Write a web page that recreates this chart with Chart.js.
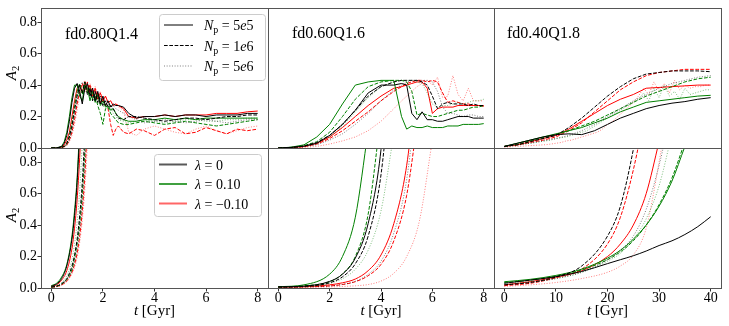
<!DOCTYPE html>
<html lang="en">
<head>
<meta charset="UTF-8">
<title>A2 bar growth</title>
<script src="https://cdn.jsdelivr.net/npm/chart.js"></script>
<style>
  html, body { margin: 0; padding: 0; background: #fff; overflow: hidden; }
  #wrap { position: relative; width: 729px; height: 326px; overflow: hidden; background: #fff; }
  #wrap canvas { position: absolute; left: -40px; top: -40px; }
</style>
</head>
<body>
<div id="wrap">
  <canvas id="p00" width="809" height="406"></canvas>
  <canvas id="p01" width="809" height="406"></canvas>
  <canvas id="p02" width="809" height="406"></canvas>
  <canvas id="p10" width="809" height="406"></canvas>
  <canvas id="p11" width="809" height="406"></canvas>
  <canvas id="p12" width="809" height="406"></canvas>
</div>
<script>
// ---- labels / ticks ----
const panelNames = ['fd0.80Q1.4', 'fd0.60Q1.6', 'fd0.40Q1.8'];
const npLabels = ['5e5', '1e6', '5e6'];
const lambdaLabels = ['0', '0.10', '\u22120.10'];
const xTicksGyr = [0, 2, 4, 6, 8];
const xTicksLong = [0, 10, 20, 30, 40];
const yTicks = [0, 0.2, 0.4, 0.6, 0.8];
const xLimGyr = [-0.4, 8.4];
const xLimLong = [-2, 42];
const yLim = [0, 0.89];

// ---- top left: fd0.80Q1.4, A2 (k = lambda 0, g = 0.10, r = -0.10) ----
const tTopL = [0,0.2,0.4,0.5,0.6,0.7,0.8,0.9,1.0,1.1,1.2,1.3,1.4,1.5,1.6,1.7,1.8,1.9,2.0,2.1,2.2,2.3,2.4,2.5,2.6,2.8,3.0,3.3,3.6,4.0,4.4,4.8,5.2,5.6,6.0,6.4,6.8,7.2,7.6,8.0];
const topL_k5e5 = [0,0,0.01,0.03,0.08,0.17,0.29,0.38,0.41,0.36,0.28,0.38,0.41,0.33,0.38,0.30,0.36,0.28,0.33,0.27,0.30,0.26,0.28,0.27,0.27,0.26,0.22,0.19,0.2,0.2,0.21,0.2,0.21,0.21,0.2,0.21,0.21,0.21,0.22,0.22];
const topL_k1e6 = [0,0,0.005,0.01,0.03,0.07,0.14,0.24,0.33,0.40,0.35,0.42,0.34,0.38,0.30,0.36,0.29,0.33,0.27,0.3,0.26,0.27,0.25,0.22,0.19,0.18,0.2,0.2,0.19,0.18,0.17,0.18,0.19,0.19,0.18,0.19,0.2,0.2,0.21,0.21];
const topL_k5e6 = [0,0,0.003,0.008,0.02,0.05,0.11,0.2,0.3,0.38,0.42,0.36,0.4,0.33,0.37,0.3,0.33,0.28,0.3,0.27,0.28,0.26,0.27,0.25,0.24,0.22,0.2,0.18,0.16,0.17,0.18,0.17,0.16,0.17,0.18,0.17,0.16,0.17,0.18,0.18];
const topL_g5e5 = [0,0,0.01,0.04,0.1,0.2,0.32,0.4,0.40,0.33,0.3,0.4,0.38,0.3,0.36,0.29,0.34,0.27,0.3,0.26,0.27,0.24,0.25,0.22,0.2,0.18,0.17,0.17,0.18,0.18,0.19,0.18,0.19,0.18,0.19,0.19,0.19,0.19,0.19,0.19];
const topL_g1e6 = [0,0,0.005,0.01,0.03,0.08,0.16,0.27,0.36,0.41,0.34,0.42,0.35,0.38,0.31,0.34,0.27,0.22,0.15,0.25,0.26,0.22,0.2,0.18,0.16,0.15,0.15,0.16,0.17,0.16,0.15,0.16,0.17,0.16,0.15,0.14,0.15,0.16,0.17,0.18];
const topL_g5e6 = [0,0,0.003,0.008,0.02,0.06,0.13,0.23,0.33,0.4,0.37,0.42,0.35,0.39,0.32,0.35,0.28,0.31,0.26,0.28,0.25,0.26,0.22,0.2,0.18,0.17,0.16,0.17,0.18,0.17,0.16,0.17,0.18,0.18,0.17,0.17,0.18,0.18,0.19,0.19];
const topL_r5e5 = [0,0,0.005,0.02,0.05,0.1,0.2,0.3,0.38,0.40,0.35,0.42,0.36,0.40,0.33,0.38,0.31,0.35,0.30,0.33,0.29,0.30,0.27,0.28,0.27,0.25,0.2,0.19,0.2,0.2,0.21,0.2,0.21,0.21,0.21,0.22,0.22,0.22,0.23,0.235];
const topL_r1e6 = [0,0,0.003,0.008,0.02,0.05,0.1,0.18,0.28,0.36,0.41,0.36,0.42,0.35,0.38,0.32,0.35,0.29,0.31,0.27,0.25,0.15,0.08,0.12,0.14,0.1,0.09,0.12,0.11,0.08,0.12,0.13,0.09,0.10,0.13,0.11,0.09,0.12,0.11,0.12];
const topL_r5e6 = [0,0,0.002,0.005,0.015,0.04,0.08,0.15,0.24,0.33,0.4,0.43,0.38,0.41,0.36,0.39,0.33,0.36,0.3,0.33,0.28,0.3,0.27,0.28,0.26,0.24,0.1,0.08,0.12,0.14,0.12,0.1,0.09,0.12,0.14,0.11,0.09,0.11,0.13,0.14];

// ---- top middle: fd0.60Q1.6 ----
const tTopM = [0,0.5,1.0,1.5,2.0,2.5,3.0,3.5,4.0,4.5,4.8,5.0,5.2,5.4,5.6,5.8,6.0,6.2,6.4,6.6,6.8,7.0,7.2,7.4,7.6,7.8,8.0];
const topM_k5e5 = [0,0.004,0.012,0.03,0.08,0.15,0.24,0.35,0.40,0.40,0.41,0.40,0.22,0.18,0.23,0.18,0.18,0.17,0.17,0.18,0.19,0.2,0.2,0.2,0.19,0.19,0.19];
const topM_k1e6 = [0,0.003,0.012,0.035,0.08,0.15,0.24,0.33,0.39,0.42,0.43,0.43,0.43,0.43,0.42,0.40,0.33,0.25,0.28,0.29,0.28,0.28,0.28,0.27,0.28,0.27,0.27];
const topM_k5e6 = [0,0.002,0.008,0.02,0.05,0.09,0.15,0.22,0.3,0.37,0.4,0.42,0.43,0.43,0.43,0.43,0.42,0.36,0.26,0.22,0.22,0.21,0.2,0.21,0.21,0.2,0.2];
const topM_g5e5 = [0,0.005,0.02,0.07,0.15,0.28,0.4,0.42,0.43,0.43,0.2,0.12,0.14,0.13,0.13,0.14,0.13,0.13,0.13,0.14,0.14,0.14,0.15,0.15,0.15,0.15,0.155];
const topM_g1e6 = [0,0.004,0.015,0.04,0.1,0.2,0.31,0.39,0.42,0.43,0.43,0.42,0.36,0.21,0.22,0.21,0.2,0.2,0.21,0.22,0.23,0.24,0.24,0.25,0.26,0.26,0.27];
const topM_g5e6 = [0,0.003,0.01,0.03,0.07,0.14,0.23,0.32,0.39,0.42,0.43,0.43,0.43,0.42,0.41,0.35,0.28,0.26,0.27,0.27,0.28,0.29,0.28,0.29,0.3,0.3,0.31];
const topM_r5e5 = [0,0.003,0.01,0.03,0.07,0.13,0.2,0.27,0.33,0.38,0.39,0.4,0.41,0.42,0.42,0.38,0.22,0.25,0.26,0.26,0.26,0.27,0.27,0.27,0.27,0.27,0.265];
const topM_r1e6 = [0,0.002,0.008,0.025,0.06,0.11,0.17,0.23,0.3,0.36,0.39,0.41,0.42,0.43,0.43,0.42,0.43,0.42,0.35,0.29,0.3,0.29,0.28,0.28,0.27,0.27,0.27];
const topM_r5e6 = [0,0.001,0.004,0.01,0.025,0.045,0.07,0.11,0.17,0.25,0.3,0.33,0.36,0.39,0.41,0.43,0.4,0.45,0.32,0.33,0.46,0.34,0.3,0.38,0.3,0.3,0.3];

// ---- top right: fd0.40Q1.8 ----
const tTopR = [0,2.5,5,7.5,10,12.5,15,17.5,20,22.5,25,27.5,30,32.5,35,37.5,40];
const tTopRFine = [0,1,2,3,4,5,6,7,8,9,10,11,12,13,14,15,16,17,18,19,20,21,22,23,24,25,26,27,28,29,30,31,32,33,34,35,36,37,38,39,40];
const topR_k5e5 = [0.01,0.03,0.05,0.07,0.085,0.09,0.085,0.11,0.15,0.19,0.22,0.25,0.27,0.285,0.295,0.31,0.32];
const topR_k1e6 = [0.01,0.02,0.04,0.06,0.08,0.13,0.19,0.26,0.33,0.39,0.44,0.47,0.48,0.49,0.49,0.49,0.485];
const topR_k5e6 = [0.01,0.02,0.03,0.045,0.06,0.08,0.11,0.15,0.2,0.25,0.3,0.34,0.38,0.41,0.43,0.45,0.46];
const topR_g5e5 = [0.01,0.03,0.05,0.07,0.09,0.11,0.13,0.16,0.19,0.23,0.26,0.29,0.3,0.31,0.32,0.33,0.335];
const topR_g1e6 = [0.01,0.025,0.045,0.065,0.085,0.11,0.14,0.17,0.21,0.25,0.29,0.33,0.36,0.39,0.42,0.44,0.45];
const topR_g5e6 = [0.01,0.012,0.015,0.02,0.025,0.03,0.035,0.04,0.045,0.05,0.06,0.065,0.07,0.08,0.09,0.1,0.11,0.13,0.15,0.17,0.19,0.21,0.23,0.25,0.27,0.29,0.31,0.35,0.3,0.38,0.32,0.4,0.33,0.36,0.31,0.38,0.34,0.35,0.36,0.37,0.37];
const topR_r5e5 = [0.01,0.02,0.04,0.06,0.08,0.12,0.17,0.22,0.27,0.31,0.34,0.38,0.385,0.39,0.395,0.4,0.4];
const topR_r1e6 = [0.01,0.02,0.035,0.05,0.07,0.11,0.16,0.23,0.3,0.37,0.42,0.46,0.48,0.49,0.5,0.5,0.5];
const topR_r5e6 = [0.005,0.007,0.009,0.011,0.013,0.015,0.017,0.019,0.021,0.025,0.03,0.035,0.045,0.05,0.06,0.07,0.08,0.09,0.1,0.12,0.15,0.17,0.2,0.23,0.26,0.29,0.33,0.38,0.34,0.42,0.36,0.41,0.35,0.43,0.37,0.4,0.38,0.39,0.39,0.4,0.4];

// ---- bottom left: fd0.80Q1.4, amplitude growth ----
const tBotL = [0,0.2,0.4,0.6,0.8,0.9,1.0,1.1,1.2,1.3,1.4,1.5];
const botL_k5e5 = [0.012,0.025,0.06,0.14,0.31,0.46,0.67,0.98,null,null,null,null];
const botL_k1e6 = [0.006,0.012,0.028,0.06,0.14,0.21,0.31,0.46,0.67,0.98,null,null];
const botL_k5e6 = [0.005,0.01,0.022,0.05,0.11,0.17,0.25,0.37,0.54,0.79,1.15,null];
const botL_g5e5 = [0.015,0.03,0.07,0.15,0.33,0.49,0.7,1.03,null,null,null,null];
const botL_g1e6 = [0.006,0.011,0.025,0.055,0.12,0.19,0.28,0.41,0.6,0.88,1.3,null];
const botL_g5e6 = [0.008,0.015,0.035,0.08,0.18,0.28,0.42,0.62,0.92,null,null,null];
const botL_r5e5 = [0.01,0.02,0.05,0.11,0.25,0.38,0.56,0.83,1.2,null,null,null];
const botL_r1e6 = [0.005,0.009,0.02,0.045,0.1,0.15,0.22,0.33,0.49,0.72,1.05,null];
const botL_r5e6 = [0.004,0.008,0.018,0.04,0.09,0.13,0.19,0.29,0.43,0.63,0.92,1.35];

// ---- bottom middle: fd0.60Q1.6 ----
const tBotM = [0,1,2,2.5,3,3.5,4,4.5,5,5.5,6,6.5];
const botM_k5e5 = [0.007,0.012,0.042,0.088,0.19,0.41,0.88,1.9,null,null,null,null];
const botM_k1e6 = [0.006,0.01,0.033,0.071,0.154,0.33,0.72,1.55,null,null,null,null];
const botM_k5e6 = [0.005,0.007,0.013,0.023,0.043,0.087,0.17,0.35,0.69,1.4,null,null];
const botM_g5e5 = [0.008,0.02,0.088,0.2,0.45,1.0,null,null,null,null,null,null];
const botM_g1e6 = [0.007,0.014,0.04,0.09,0.2,0.47,1.1,null,null,null,null,null];
const botM_g5e6 = [0.006,0.009,0.029,0.059,0.119,0.24,0.49,0.98,null,null,null,null];
const botM_r5e5 = [0.006,0.008,0.02,0.033,0.057,0.11,0.21,0.41,0.78,1.5,null,null];
const botM_r1e6 = [0.005,0.007,0.013,0.022,0.04,0.078,0.15,0.3,0.59,1.16,null,null];
const botM_r5e6 = [0.004,0.005,0.007,0.01,0.014,0.022,0.044,0.094,0.2,0.43,0.94,null];

// ---- bottom right: fd0.40Q1.8 ----
const tBotR = [0,5,10,15,20,22.5,25,27.5,30,32.5,35,37.5,40];
const botR_k5e5 = [0.03,0.05,0.072,0.105,0.155,0.18,0.205,0.235,0.27,0.3,0.34,0.39,0.453];
const botR_k1e6 = [0.02,0.035,0.07,0.14,0.33,0.52,0.88,1.35,null,null,null,null,null];
const botR_k5e6 = [0.02,0.035,0.06,0.1,0.18,0.24,0.33,0.5,0.78,1.15,null,null,null];
const botR_g5e5 = [0.04,0.055,0.08,0.12,0.19,0.24,0.31,0.4,0.52,0.68,0.9,null,null];
const botR_g1e6 = [0.035,0.05,0.075,0.115,0.18,0.23,0.3,0.4,0.53,0.7,0.93,null,null];
const botR_g5e6 = [0.03,0.04,0.06,0.1,0.17,0.22,0.31,0.44,0.65,0.98,null,null,null];
const botR_r5e5 = [0.02,0.04,0.07,0.11,0.2,0.28,0.4,0.6,0.93,null,null,null,null];
const botR_r1e6 = [0.015,0.03,0.065,0.12,0.28,0.45,0.75,1.15,null,null,null,null,null];
const botR_r5e6 = [0.01,0.02,0.035,0.06,0.1,0.14,0.21,0.38,0.8,1.3,null,null,null];

// ---- layout ----
const OFF = 40, CW = 809, CH = 406;
const YW = 40, XH = 30;   // fixed axis box sizes (labels are clipped to these boxes)
const colX = [[41, 268], [268, 494], [494, 721]];
const rowY = [[8, 148], [148, 288]];
const SERIF = '"Liberation Serif", "Times New Roman", serif';
const BLACK = '0,0,0', GREEN = '0,128,0', RED = '255,0,0';

Chart.defaults.font.family = SERIF;
Chart.defaults.font.size = 14;
Chart.defaults.color = '#000';

function fnt(size, italic) { return (italic ? 'italic ' : '') + size + 'px ' + SERIF; }

function line(t, v, rgb, style, smooth) {
  return {
    data: t.map((x, i) => ({ x: x, y: v[i] })),
    borderColor: 'rgba(' + rgb + ',' + (style === 'dot' ? 0.5 : 1) + ')',
    borderWidth: 1,
    borderDash: style === 'dash' ? [3.7, 1.6] : style === 'dot' ? [1, 1.65] : [],
    pointRadius: 0,
    fill: false,
    cubicInterpolationMode: smooth ? 'monotone' : 'default'
  };
}

function drawRich(ctx, parts, x, y, align) {
  if (align === 'center') {
    let w = 0;
    parts.forEach(p => { ctx.font = p.font; w += ctx.measureText(p.text).width; });
    x -= w / 2;
  }
  parts.forEach(p => {
    ctx.font = p.font;
    ctx.fillText(p.text, x, y + (p.dy || 0));
    x += ctx.measureText(p.text).width;
  });
}

function drawLegend(ctx, L) {
  ctx.save();
  ctx.beginPath();
  ctx.roundRect(L.x + 0.5, L.y + 0.5, L.w, L.h, 3);
  ctx.fillStyle = 'rgba(255,255,255,0.8)';
  ctx.fill();
  ctx.strokeStyle = '#cccccc';
  ctx.lineWidth = 1;
  ctx.stroke();
  L.rows.forEach((r, i) => {
    const yc = L.rowY[i];
    ctx.beginPath();
    ctx.setLineDash(r.dash);
    ctx.strokeStyle = r.color;
    ctx.lineWidth = r.width;
    ctx.moveTo(L.x0, yc);
    ctx.lineTo(L.x1, yc);
    ctx.stroke();
    ctx.setLineDash([]);
    ctx.fillStyle = '#000';
    ctx.textBaseline = 'alphabetic';
    drawRich(ctx, r.parts, L.tx, yc + 5);
  });
  ctx.restore();
}

const npLegend = {
  x: 159, y: 14, w: 106, h: 66, x0: 164, x1: 193, tx: 204, rowY: [25, 45.5, 66],
  rows: npLabels.map((s, i) => {
    const p = s.split('e');
    return {
      color: i === 2 ? 'rgba(0,0,0,0.5)' : '#000', width: 1,
      dash: i === 0 ? [] : i === 1 ? [3.7, 1.6] : [1, 1.65],
      parts: [
        { text: 'N', font: fnt(14, true) },
        { text: 'p', font: fnt(10), dy: 3 },
        { text: ' = ', font: fnt(14) },
        { text: p[0], font: fnt(14) },
        { text: 'e', font: fnt(14, true) },
        { text: p[1], font: fnt(14) }
      ]
    };
  })
};

const lamColors = ['rgba(0,0,0,0.65)', 'rgba(0,128,0,0.75)', 'rgba(255,0,0,0.6)'];
const lamLegend = {
  x: 154, y: 154, w: 107, h: 62, x0: 159, x1: 187, tx: 195, rowY: [164.5, 184, 203.5],
  rows: lambdaLabels.map((s, i) => ({
    color: lamColors[i], width: 2, dash: [],
    parts: [ { text: '\u03bb', font: fnt(14, true) }, { text: ' = ' + s, font: fnt(14) } ]
  }))
};

const decor = {
  id: 'decor',
  afterDraw(chart, args, o) {
    const ctx = chart.ctx, a = chart.chartArea;
    ctx.save();
    ctx.strokeStyle = '#555';
    ctx.lineWidth = 1;
    ctx.strokeRect(Math.round(a.left) + 0.5, Math.round(a.top) + 0.5,
                   Math.round(a.right - a.left), Math.round(a.bottom - a.top));
    ctx.translate(OFF, OFF);
    ctx.fillStyle = '#000';
    ctx.textAlign = 'left';
    ctx.textBaseline = 'alphabetic';
    if (o.name) drawRich(ctx, [{ text: o.name, font: fnt(16) }], o.nameX, o.nameY);
    if (o.yTitle) {
      ctx.save();
      ctx.translate(16, o.yTitle);
      ctx.rotate(-Math.PI / 2);
      drawRich(ctx, [{ text: 'A', font: fnt(15, true) }, { text: '2', font: fnt(10.5), dy: 3 }], 0, 0, 'center');
      ctx.restore();
    }
    if (o.xTitle) {
      drawRich(ctx, [{ text: 't', font: fnt(15, true) }, { text: ' [Gyr]', font: fnt(15) }], o.xTitle, 315, 'center');
    }
    if (o.legend) drawLegend(ctx, o.legend);
    ctx.restore();
  }
};

function xAxis(col, row) {
  const ticks = col === 2 ? xTicksLong : xTicksGyr;
  const lim = col === 2 ? xLimLong : xLimGyr;
  return {
    type: 'linear', min: lim[0], max: lim[1],
    display: row === 1,
    grid: { drawOnChartArea: false, drawTicks: true, tickLength: 3.5, color: '#333', lineWidth: 1 },
    border: { display: false },
    ticks: { padding: -2, maxRotation: 0, autoSkip: false, color: '#000', callback: v => String(v) },
    afterBuildTicks: s => { s.ticks = ticks.map(v => ({ value: v })); },
    afterFit: s => { s.height = row === 1 ? XH : 0; }
  };
}

function yAxis(col) {
  return {
    type: 'linear', min: yLim[0], max: yLim[1],
    display: col === 0,
    grid: { drawOnChartArea: false, drawTicks: true, tickLength: 3.5, color: '#333', lineWidth: 1 },
    border: { display: false },
    ticks: { padding: 0.5, color: '#000', callback: v => v.toFixed(1) },
    afterBuildTicks: s => { s.ticks = yTicks.map(v => ({ value: v })); },
    afterFit: s => { s.width = col === 0 ? YW : 0; }
  };
}

function makePanel(id, col, row, sets, deco) {
  const L = colX[col][0], R = colX[col][1], T = rowY[row][0], B = rowY[row][1];
  const padL = L + OFF - (col === 0 ? YW : 0);
  const padB = CH - B - OFF - (row === 1 ? XH : 0);
  new Chart(document.getElementById(id), {
    type: 'line',
    data: { datasets: sets },
    options: {
      responsive: false, animation: false, events: [],
      layout: { padding: { left: padL, top: T + OFF, right: CW - R - OFF, bottom: padB } },
      elements: { point: { radius: 0 }, line: { tension: 0 } },
      plugins: { legend: { display: false }, tooltip: { enabled: false }, decor: deco },
      scales: { x: xAxis(col, row), y: yAxis(col) }
    },
    plugins: [decor]
  });
}

function nine(t, tf, s, smooth) {
  // s: [k5e5,k1e6,k5e6,g5e5,g1e6,g5e6,r5e5,r1e6,r5e6]; tf[i] overrides time grid
  const rgb = [BLACK, BLACK, BLACK, GREEN, GREEN, GREEN, RED, RED, RED];
  const st = ['solid', 'dash', 'dot'];
  return s.map((v, i) => line((tf && tf[i]) || t, v, rgb[i], st[i % 3], smooth));
}

makePanel('p00', 0, 0, nine(tTopL, null,
  [topL_k5e5, topL_k1e6, topL_k5e6, topL_g5e5, topL_g1e6, topL_g5e6, topL_r5e5, topL_r1e6, topL_r5e6], false),
  { name: panelNames[0], nameX: 65, nameY: 38.5, yTitle: 73, legend: npLegend });
makePanel('p01', 1, 0, nine(tTopM, null,
  [topM_k5e5, topM_k1e6, topM_k5e6, topM_g5e5, topM_g1e6, topM_g5e6, topM_r5e5, topM_r1e6, topM_r5e6], false),
  { name: panelNames[1], nameX: 292, nameY: 37.5 });
makePanel('p02', 2, 0, nine(tTopR, [null, null, null, null, null, tTopRFine, null, null, tTopRFine],
  [topR_k5e5, topR_k1e6, topR_k5e6, topR_g5e5, topR_g1e6, topR_g5e6, topR_r5e5, topR_r1e6, topR_r5e6], false),
  { name: panelNames[2], nameX: 507, nameY: 37.5 });
makePanel('p10', 0, 1, nine(tBotL, null,
  [botL_k5e5, botL_k1e6, botL_k5e6, botL_g5e5, botL_g1e6, botL_g5e6, botL_r5e5, botL_r1e6, botL_r5e6], true),
  { yTitle: 215, xTitle: 154.5, legend: lamLegend });
makePanel('p11', 1, 1, nine(tBotM, null,
  [botM_k5e5, botM_k1e6, botM_k5e6, botM_g5e5, botM_g1e6, botM_g5e6, botM_r5e5, botM_r1e6, botM_r5e6], true),
  { xTitle: 381 });
makePanel('p12', 2, 1, nine(tBotR, null,
  [botR_k5e5, botR_k1e6, botR_k5e6, botR_g5e5, botR_g1e6, botR_g5e6, botR_r5e5, botR_r1e6, botR_r5e6], true),
  { xTitle: 607.5 });
</script>
</body>
</html>
